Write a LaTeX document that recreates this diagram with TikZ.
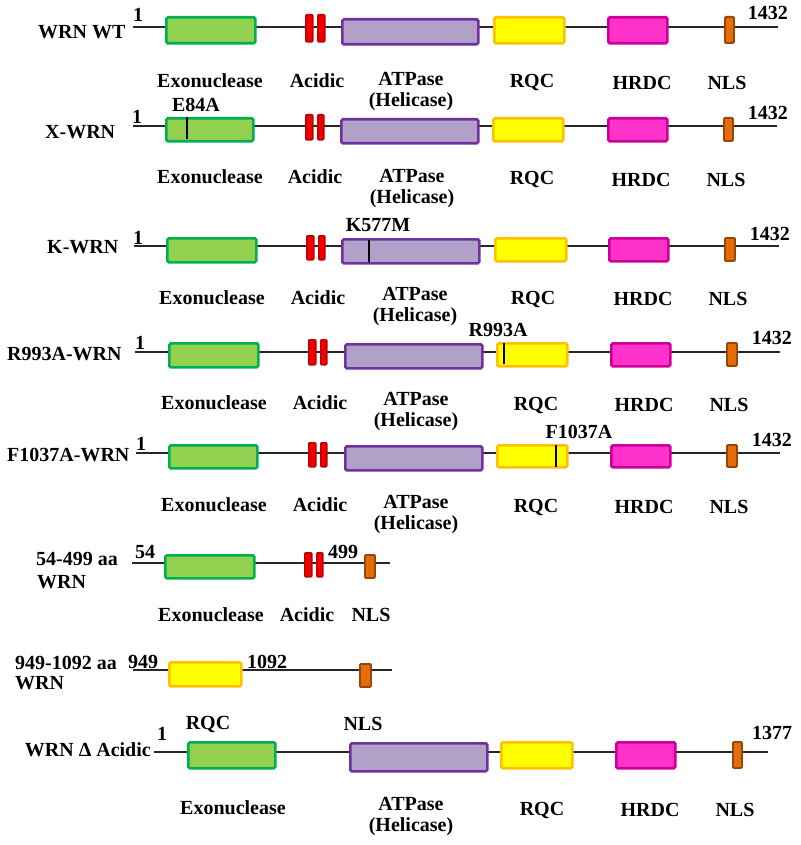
\documentclass[tikz,border=0pt]{standalone}
\usepackage{fontspec}
\setmainfont{Liberation Serif}
\definecolor{exoF}{RGB}{146,208,80}
\definecolor{exoD}{RGB}{0,176,80}
\definecolor{acF}{RGB}{240,0,0}
\definecolor{acD}{RGB}{192,0,0}
\definecolor{atF}{RGB}{177,160,199}
\definecolor{atD}{RGB}{112,48,160}
\definecolor{rqF}{RGB}{255,255,0}
\definecolor{rqD}{RGB}{255,192,0}
\definecolor{hrF}{RGB}{255,51,204}
\definecolor{hrD}{RGB}{204,0,153}
\definecolor{nlF}{RGB}{228,108,10}
\definecolor{nlD}{RGB}{152,72,6}
\tikzset{
  dom/.style={line width=2.6pt, rounded corners=1.5pt, inner sep=0pt, anchor=north west},
  exo/.style={dom, fill=exoF, draw=exoD},
  acid/.style={dom, fill=acF, draw=acD, line width=1.6pt, rounded corners=1pt},
  atp/.style={dom, fill=atF, draw=atD},
  rqc/.style={dom, fill=rqF, draw=rqD},
  hrdc/.style={dom, fill=hrF, draw=hrD},
  nls/.style={dom, fill=nlF, draw=nlD, line width=1.8pt, rounded corners=1pt},
  lab/.style={font=\bfseries\fontsize{20}{21}\selectfont, inner sep=0pt},
  two/.style={lab, align=center},
  backbone/.style={line width=1.4pt, draw=black!85},
  mut/.style={line width=2.6pt, draw=black},
}
\newcommand\dombox[6]{\node[#1, minimum width={(#5-#3-2)*1pt}, minimum height={(#6-#4-2)*1pt}] (#2) at (#3+1,#4+1) {};}
\begin{document}
\begin{tikzpicture}[x=1pt,y=-1pt]
\useasboundingbox (0,0) rectangle (800,845);
% ---------------- Row 1: WRN WT
\coordinate (r1a) at (133,27); \coordinate (r1b) at (778,27);
\draw[backbone] (r1a) -- (r1b);
\dombox{exo}{r1exo}{164}{15}{255}{43}
\dombox{acid}{r1ac1}{304}{13}{313}{42}
\dombox{acid}{r1ac2}{316}{13}{325}{42}
\dombox{atp}{r1atp}{340}{17}{478}{44}
\dombox{rqc}{r1rqc}{492}{15}{564}{43}
\dombox{hrdc}{r1hr}{606}{15}{667}{43}
\dombox{nls}{r1nls}{723}{15}{734}{43}
\node[lab, anchor=west] (r1name) at (38,32) {WRN WT};
\node[lab] (r1one) at (138,15) {1};
\node[lab, anchor=east] (r1end) at (788,13) {1432};
\node[lab] (r1l1) at (210,81) {Exonuclease};
\node[lab] (r1l2) at (317,81) {Acidic};
\node[two] (r1l3) at (411,92) {ATPase\\(Helicase)};
\node[lab] (r1l4) at (532,83) {RQC};
\node[lab] (r1l5) at (642,83) {HRDC};
\node[lab] (r1l6) at (727,83) {NLS};
% ---------------- Row 2: X-WRN
\coordinate (r2a) at (133,126); \coordinate (r2b) at (777,126);
\draw[backbone] (r2a) -- (r2b);
\dombox{exo}{r2exo}{164}{116}{253}{141}
\dombox{acid}{r2ac1}{304}{113}{313}{140}
\dombox{acid}{r2ac2}{316}{113}{324}{140}
\dombox{atp}{r2atp}{339}{117}{478}{143}
\dombox{rqc}{r2rqc}{491}{116}{563}{141}
\dombox{hrdc}{r2hr}{606}{116}{667}{141}
\dombox{nls}{r2nls}{722}{116}{733}{141}
\draw[mut] (187,117) -- (187,139);
\node[lab, anchor=west] (r2name) at (45,132) {X-WRN};
\node[lab] (r2one) at (137,117) {1};
\node[lab, anchor=east] (r2end) at (788,113) {1432};
\node[lab] (r2mut) at (196,105) {E84A};
\node[lab] (r2l1) at (210,177) {Exonuclease};
\node[lab] (r2l2) at (315,177) {Acidic};
\node[two] (r2l3) at (412,189) {ATPase\\(Helicase)};
\node[lab] (r2l4) at (532,180) {RQC};
\node[lab] (r2l5) at (641,180) {HRDC};
\node[lab] (r2l6) at (726,180) {NLS};
% ---------------- Row 3: K-WRN
\coordinate (r3a) at (134,246); \coordinate (r3b) at (779,246);
\draw[backbone] (r3a) -- (r3b);
\dombox{exo}{r3exo}{165}{236}{256}{262}
\dombox{acid}{r3ac1}{305}{234}{314}{260}
\dombox{acid}{r3ac2}{317}{234}{325}{260}
\dombox{atp}{r3atp}{340}{237}{479}{263}
\dombox{rqc}{r3rqc}{493}{236}{566}{261}
\dombox{hrdc}{r3hr}{607}{236}{668}{261}
\dombox{nls}{r3nls}{723}{236}{735}{261}
\draw[mut] (369,240) -- (369,262);
\node[lab, anchor=west] (r3name) at (47,247) {K-WRN};
\node[lab] (r3one) at (138,238) {1};
\node[lab, anchor=east] (r3end) at (790,234) {1432};
\node[lab] (r3mut) at (378,225) {K577M};
\node[lab] (r3l1) at (212,298) {Exonuclease};
\node[lab] (r3l2) at (318,298) {Acidic};
\node[two] (r3l3) at (415,307) {ATPase\\(Helicase)};
\node[lab] (r3l4) at (533,299) {RQC};
\node[lab] (r3l5) at (643,299) {HRDC};
\node[lab] (r3l6) at (728,299) {NLS};
% ---------------- Row 4: R993A-WRN
\coordinate (r4a) at (135,352); \coordinate (r4b) at (780,352);
\draw[backbone] (r4a) -- (r4b);
\dombox{exo}{r4exo}{167}{341}{258}{367}
\dombox{acid}{r4ac1}{307}{338}{316}{365}
\dombox{acid}{r4ac2}{319}{338}{327}{365}
\dombox{atp}{r4atp}{343}{342}{482}{368}
\dombox{rqc}{r4rqc}{495}{341}{567}{366}
\dombox{hrdc}{r4hr}{609}{341}{670}{366}
\dombox{nls}{r4nls}{725}{341}{737}{366}
\draw[mut] (504,343) -- (504,364);
\node[lab, anchor=west] (r4name) at (7,354) {R993A-WRN};
\node[lab] (r4one) at (140,343) {1};
\node[lab, anchor=east] (r4end) at (792,338) {1432};
\node[lab] (r4mut) at (498,330) {R993A};
\node[lab] (r4l1) at (214,403) {Exonuclease};
\node[lab] (r4l2) at (320,403) {Acidic};
\node[two] (r4l3) at (416,412) {ATPase\\(Helicase)};
\node[lab] (r4l4) at (536,405) {RQC};
\node[lab] (r4l5) at (644,405) {HRDC};
\node[lab] (r4l6) at (729,405) {NLS};
% ---------------- Row 5: F1037A-WRN
\coordinate (r5a) at (136,453); \coordinate (r5b) at (780,453);
\draw[backbone] (r5a) -- (r5b);
\dombox{exo}{r5exo}{167}{443}{257}{468}
\dombox{acid}{r5ac1}{307}{441}{316}{467}
\dombox{acid}{r5ac2}{319}{441}{327}{467}
\dombox{atp}{r5atp}{343}{444}{482}{470}
\dombox{rqc}{r5rqc}{495}{443}{567}{467}
\dombox{hrdc}{r5hr}{609}{443}{670}{467}
\dombox{nls}{r5nls}{725}{443}{737}{467}
\draw[mut] (556,445) -- (556,467);
\node[lab, anchor=west] (r5name) at (7,455) {F1037A-WRN};
\node[lab] (r5one) at (141,444) {1};
\node[lab, anchor=east] (r5end) at (792,440) {1432};
\node[lab] (r5mut) at (579,432) {F1037A};
\node[lab] (r5l1) at (214,505) {Exonuclease};
\node[lab] (r5l2) at (320,505) {Acidic};
\node[two] (r5l3) at (416,515) {ATPase\\(Helicase)};
\node[lab] (r5l4) at (536,507) {RQC};
\node[lab] (r5l5) at (644,507) {HRDC};
\node[lab] (r5l6) at (729,507) {NLS};
% ---------------- Row 6: 54-499 aa WRN
\coordinate (r6a) at (132,563); \coordinate (r6b) at (390,563);
\draw[backbone] (r6a) -- (r6b);
\dombox{exo}{r6exo}{163}{553}{254}{578}
\dombox{acid}{r6ac1}{303}{551}{312}{577}
\dombox{acid}{r6ac2}{315}{551}{323}{577}
\dombox{nls}{r6nls}{363}{553}{375}{578}
\node[lab, anchor=west] (r6name) at (36,559) {54-499 aa};
\node[lab, anchor=west] (r6name2) at (37,582) {WRN};
\node[lab] (r6s) at (145,552) {54};
\node[lab] (r6e) at (343,552) {499};
\node[lab] (r6l1) at (211,615) {Exonuclease};
\node[lab] (r6l2) at (307,615) {Acidic};
\node[lab] (r6l3) at (371,615) {NLS};
% ---------------- Row 7: 949-1092 aa WRN
\coordinate (r7a) at (133,670); \coordinate (r7b) at (392,670);
\draw[backbone] (r7a) -- (r7b);
\dombox{rqc}{r7rqc}{167}{660}{241}{686}
\dombox{nls}{r7nls}{358}{662}{371}{687}
\node[lab, anchor=west] (r7name) at (15,663) {949-1092 aa};
\node[lab, anchor=west] (r7name2) at (15,683) {WRN};
\node[lab] (r7s) at (143,662) {949};
\node[lab] (r7e) at (267,662) {1092};
% ---------------- Row 8: WRN Delta Acidic
\coordinate (r8a) at (154,752); \coordinate (r8b) at (768,752);
\draw[backbone] (r8a) -- (r8b);
\dombox{exo}{r8exo}{186}{740}{275}{768}
\dombox{atp}{r8atp}{348}{741}{487}{771}
\dombox{rqc}{r8rqc}{499}{740}{572}{768}
\dombox{hrdc}{r8hr}{614}{740}{675}{768}
\dombox{nls}{r8nls}{731}{740}{742}{768}
\node[lab, anchor=east] (r8name) at (151,750) {WRN Δ Acidic};
\node[lab] (r8one) at (162,734) {1};
\node[lab] (r8end) at (772,733) {1377};
\node[lab] (r8t1) at (208,724) {RQC};
\node[lab] (r8t2) at (363,724) {NLS};
\node[lab] (r8l1) at (233,808) {Exonuclease};
\node[two] (r8l3) at (411,817) {ATPase\\(Helicase)};
\node[lab] (r8l4) at (542,810) {RQC};
\node[lab] (r8l5) at (650,810) {HRDC};
\node[lab] (r8l6) at (735,810) {NLS};
\end{tikzpicture}
\end{document}
